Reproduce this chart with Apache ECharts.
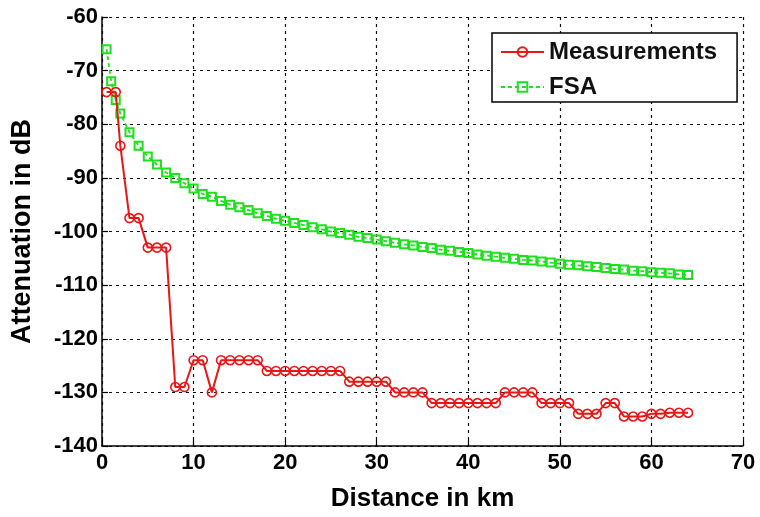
<!DOCTYPE html>
<html>
<head>
<meta charset="utf-8">
<script src="https://cdn.jsdelivr.net/npm/echarts@6/dist/echarts.min.js"></script>
<style>html,body{margin:0;padding:0;background:#fff}#c{width:760px;height:517px}</style>
</head>
<body>
<div id="c"></div>
<script>
const measX = [0.5,1.5,2,3,4,5,6,7,8,9,10,11,12,13,14,15,16,17,18,19,20,21,22,23,24,25,26,27,28,29,30,31,32,33,34,35,36,37,38,39,40,41,42,43,44,45,46,47,48,49,50,51,52,53,54,55,56,57,58,59,60,61,62,63,64];
const measY = [-74,-74,-84,-97.5,-97.5,-103,-103,-103,-129,-129,-124,-124,-130,-124,-124,-124,-124,-124,
  -126,-126,-126,-126,-126,-126,-126,-126,-126,
  -128,-128,-128,-128,-128,
  -130,-130,-130,-130,
  -132,-132,-132,-132,-132,-132,-132,-132,
  -130,-130,-130,-130,
  -132,-132,-132,-132,
  -134,-134,-134,
  -132,-132,
  -134.5,-134.5,-134.5,
  -134,-134,-133.8,-133.8,-133.8];
const fsaX = [0.5,1,1.5,2,3,4,5,6,7,8,9,10,11,12,13,14,15,16,17,18,19,20,21,22,23,24,25,26,27,28,29,30,31,32,33,34,35,36,37,38,39,40,41,42,43,44,45,46,47,48,49,50,51,52,53,54,55,56,57,58,59,60,61,62,63,64];
const fsaY = [-66,-72,-75.5,-78,-81.5,-84,-86,-87.5,-89,-90,-91,-92,-93,-93.5,-94.3,-95,-95.5,-96,-96.6,-97.1,-97.6,-98,-98.4,-98.8,-99.2,-99.6,-100,-100.3,-100.6,-101,-101.2,-101.5,-101.8,-102.1,-102.4,-102.6,-102.9,-103.1,-103.4,-103.6,-103.8,-104,-104.3,-104.5,-104.7,-104.9,-105.1,-105.3,-105.4,-105.6,-105.8,-106,-106.2,-106.3,-106.5,-106.6,-106.8,-107,-107.1,-107.3,-107.4,-107.6,-107.7,-107.8,-108,-108.1];
const xTicks = {min:0, max:70, interval:10};
const yTicks = {min:-140, max:-60, interval:10};

const RED = '#ea1515', GREEN = '#1fe01f';
const font = 'Liberation Sans, Arial, sans-serif';
const chart = echarts.init(document.getElementById('c'), null, {renderer:'canvas'});
const gridLine = {show:true, lineStyle:{color:'#111', width:1.2, type:[3,4]}};
chart.setOption({
  backgroundColor:'#fff',
  animation:false,
  grid:{left:102, right:17, top:17, bottom:60, containLabel:false},
  legend:{
    left:492, top:33, orient:'vertical',
    backgroundColor:'#fff', borderColor:'#000', borderWidth:1.5,
    padding:[7,20,3,8], itemGap:11, itemWidth:43, itemHeight:12,
    textStyle:{fontFamily:font, fontSize:24, fontWeight:'bold', color:'#111', lineHeight:24},
    data:['Measurements','FSA']
  },
  xAxis:{
    type:'value', min:xTicks.min, max:xTicks.max, interval:xTicks.interval,
    name:'Distance in km', nameLocation:'middle', nameGap:40,
    nameTextStyle:{fontFamily:font, fontSize:26, fontWeight:'bold', color:'#000'},
    axisLine:{show:true, onZero:false, lineStyle:{color:'#000', width:1.5}},
    axisTick:{show:true, inside:true, length:6, lineStyle:{color:'#000', width:1.2}},
    axisLabel:{fontFamily:font, fontSize:22, fontWeight:'bold', color:'#000', margin:6},
    splitLine:gridLine
  },
  yAxis:{
    type:'value', min:yTicks.min, max:yTicks.max, interval:yTicks.interval,
    name:'Attenuation in dB', nameLocation:'middle', nameGap:66, nameRotate:90,
    nameTextStyle:{fontFamily:font, fontSize:27, fontWeight:'bold', color:'#000'},
    axisLine:{show:true, onZero:false, lineStyle:{color:'#000', width:1.5}},
    axisTick:{show:true, inside:true, length:6, lineStyle:{color:'#000', width:1.2}},
    axisLabel:{fontFamily:font, fontSize:22, fontWeight:'bold', color:'#000', margin:4},
    splitLine:gridLine
  },
  series:[
    {
      name:'Measurements', type:'line',
      data:measX.map((x,i)=>[x,measY[i]]),
      symbol:'circle', symbolSize:9, showSymbol:true,
      color:RED,
      lineStyle:{color:RED, width:2},
      itemStyle:{color:'rgba(255,255,255,0)', borderColor:RED, borderWidth:1.6},
      z:3
    },
    {
      name:'FSA', type:'line',
      data:fsaX.map((x,i)=>[x,fsaY[i]]),
      symbol:'rect', symbolSize:8, showSymbol:true,
      color:GREEN,
      lineStyle:{color:GREEN, width:1.8, type:[4,3]},
      itemStyle:{color:'rgba(255,255,255,0)', borderColor:GREEN, borderWidth:2},
      z:2
    }
  ]
});
</script>
</body>
</html>
